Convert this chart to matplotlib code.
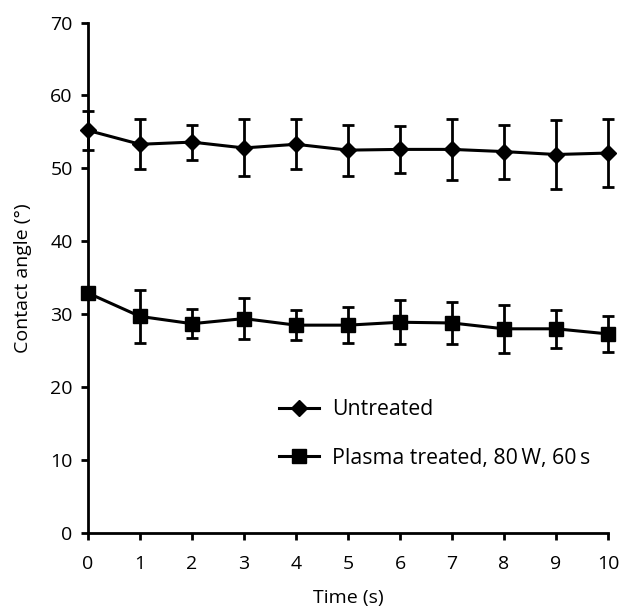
import numpy as np
import matplotlib.pyplot as plt

plt.rcParams['font.family'] = ['Open Sans', 'DejaVu Sans']

# values
time = [0, 1, 2, 3, 4, 5, 6, 7, 8, 9, 10]
untreated = [55.2, 53.3, 53.6, 52.8, 53.3, 52.5, 52.6, 52.6, 52.3, 51.9, 52.1]
untreated_err = [2.7, 3.4, 2.4, 3.9, 3.4, 3.5, 3.2, 4.2, 3.7, 4.7, 4.6]
plasma = [32.9, 29.7, 28.7, 29.4, 28.5, 28.5, 28.9, 28.8, 28.0, 28.0, 27.3]
plasma_err = [0.5, 3.6, 2.0, 2.8, 2.1, 2.5, 3.0, 2.9, 3.3, 2.6, 2.5]

fig = plt.figure(figsize=(6.21, 6.07), dpi=100)
ax = fig.add_axes([88 / 621, 1 - 533 / 607, 520 / 621, 510.5 / 607])

ax.errorbar(time, untreated, yerr=untreated_err, color='black', lw=2.2,
            marker='D', ms=8.5, capsize=4.5, elinewidth=2, capthick=2,
            clip_on=False, label='Untreated', zorder=3)
ax.errorbar(time, plasma, yerr=plasma_err, color='black', lw=2.2,
            marker='s', ms=10, capsize=4.5, elinewidth=2, capthick=2,
            clip_on=False, label='Plasma treated, 80\u2009W, 60\u2009s', zorder=3)

ax.set_xlim(0, 10)
ax.set_ylim(0, 70)
ax.set_xticks(range(0, 11))
ax.set_yticks(range(0, 71, 10))
for s in ['top', 'right']:
    ax.spines[s].set_visible(False)
for s in ['left', 'bottom']:
    ax.spines[s].set_linewidth(2)
ax.tick_params(direction='out', length=5, width=2, labelsize=14)
ax.tick_params(axis='x', pad=11)
ax.tick_params(axis='y', pad=6)

ax.set_xlabel('Time (s)', fontsize=14, labelpad=11)
ax.set_ylabel('Contact angle (°)', fontsize=14, labelpad=13)

h, l = ax.get_legend_handles_labels()
h = [x[0] for x in h]
ax.legend(h, l, loc='center left', bbox_to_anchor=(0.33, 0.194), frameon=False,
          fontsize=15.3, handlelength=1.9, labelspacing=1.3, handletextpad=0.6)

fig.savefig('out.png', dpi=100)
